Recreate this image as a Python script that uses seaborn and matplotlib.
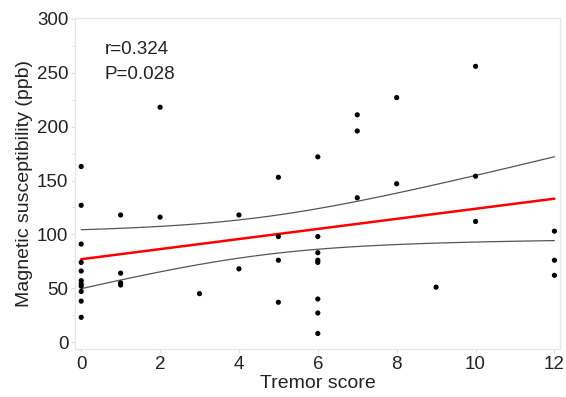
import numpy as np
import pandas as pd
import seaborn as sns
import matplotlib
matplotlib.use("Agg")
import matplotlib.pyplot as plt
from matplotlib.ticker import MultipleLocator

# data
tremor = [0] * 11 + [1] * 4 + [2] * 2 + [3] + [4] * 2 + [5] * 4 + [6] * 8 + [7] * 3 + [8] * 2 + [9] + [10] * 3 + [12] * 3
suscept = [163, 127, 91, 74, 66, 57, 54, 52, 47, 38, 23,
           118, 64, 55, 53,
           218, 116,
           45,
           118, 68,
           153, 98, 76, 37,
           172, 98, 83, 76, 74, 40, 27, 8,
           211, 196, 134,
           227, 147,
           51,
           256, 154, 112,
           103, 76, 62]
x_ticks = [0, 2, 4, 6, 8, 10, 12]
y_ticks = [0, 50, 100, 150, 200, 250, 300]
r_text = "r=0.324"
p_text = "P=0.028"

df = pd.DataFrame({"Tremor score": tremor, "Magnetic susceptibility (ppb)": suscept})

sns.set_theme(style="white")
plt.rcParams["font.family"] = ["Liberation Sans", "DejaVu Sans"]

# linear fit and 95% confidence band of the mean
x = np.asarray(tremor, float)
y = np.asarray(suscept, float)
n = len(x)
b, a = np.polyfit(x, y, 1)
resid = y - (a + b * x)
s = np.sqrt((resid ** 2).sum() / (n - 2))
xs = np.linspace(0, 12, 100)
fit = a + b * xs
se = s * np.sqrt(1 / n + (xs - x.mean()) ** 2 / ((x - x.mean()) ** 2).sum())
tval = 2.016
fit_df = pd.DataFrame({"x": xs, "fit": fit, "lo": fit - tval * se, "hi": fit + tval * se})

fig, ax = plt.subplots(figsize=(5.66, 3.97), dpi=100)
fig.subplots_adjust(left=0.133, right=0.99, top=0.955, bottom=0.122)

sns.lineplot(data=fit_df, x="x", y="hi", color="#555555", lw=0.9, ax=ax)
sns.lineplot(data=fit_df, x="x", y="lo", color="#555555", lw=0.9, ax=ax)
sns.lineplot(data=fit_df, x="x", y="fit", color="#ff0000", lw=1.8, ax=ax)
sns.scatterplot(data=df, x="Tremor score", y="Magnetic susceptibility (ppb)",
                color="black", s=14, edgecolor="none", ax=ax, zorder=5)

ax.set_xlim(-0.15, 12.15)
ax.set_ylim(-6, 301)
ax.set_xticks(x_ticks)
ax.set_yticks(y_ticks)
ax.yaxis.set_minor_locator(MultipleLocator(25))
ax.tick_params(axis="both", which="major", length=3, width=0.8, color="#dddddd",
               labelsize=13.5, labelcolor="#222222", pad=2)
ax.tick_params(axis="y", which="minor", length=2, width=0.6, color="#dddddd", left=True)
ax.tick_params(bottom=True, left=True)
for sp in ax.spines.values():
    sp.set_color("#e6e6e6")
    sp.set_linewidth(0.9)

ax.set_xlabel("Tremor score", fontsize=14, color="#222222", labelpad=2)
ax.set_ylabel("Magnetic susceptibility (ppb)", fontsize=14, color="#222222", labelpad=3)

ax.text(0.06, 0.89, r_text, transform=ax.transAxes, fontsize=13.5, color="#222222")
ax.text(0.06, 0.815, p_text, transform=ax.transAxes, fontsize=13.5, color="#222222")

fig.savefig("out.png", dpi=100)
